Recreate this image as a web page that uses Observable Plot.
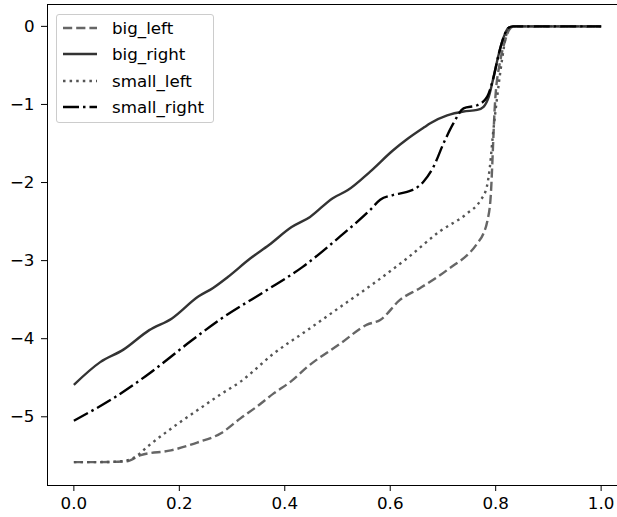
<!DOCTYPE html>
<html>
<head>
<meta charset="utf-8">
<script src="https://cdn.jsdelivr.net/npm/d3@7"></script>
<script src="https://cdn.jsdelivr.net/npm/@observablehq/plot@0.6"></script>
<style>
  html, body { margin: 0; padding: 0; overflow: hidden; background: white; }
  #wrap { position: relative; width: 641px; height: 517px; }
  #legend { position: absolute; left: 56px; top: 14px; width: 158px; height: 109px;
    border: 1px solid #cccccc; border-radius: 3px; background: rgba(255,255,255,0.8);
    font-family: "DejaVu Sans", sans-serif; font-size: 16.7px; color: #000; box-sizing: border-box; }
  .row { position: absolute; left: 0; height: 20px; display: flex; align-items: center; white-space: nowrap; }
  .row svg { margin-left: 6px; display: block; }
  .row span { margin-left: 15px; }
</style>
</head>
<body>
<div id="wrap"></div>
<script>
// ---- data ----
const seriesNames = ["big_left", "big_right", "small_left", "small_right"];

const bigLeftX = [0, 0.05, 0.1, 0.127, 0.184, 0.234, 0.279, 0.316, 0.347, 0.379, 0.413, 0.443, 0.506, 0.556, 0.581, 0.619, 0.657, 0.708, 0.765, 0.777, 0.784, 0.79, 0.799, 0.809, 0.818, 0.826, 0.835, 1.0];
const bigLeftY = [-5.58, -5.58, -5.57, -5.49, -5.43, -5.33, -5.21, -5.02, -4.87, -4.70, -4.54, -4.36, -4.06, -3.82, -3.76, -3.50, -3.35, -3.12, -2.78, -2.65, -2.50, -2.23, -0.95, -0.43, -0.18, -0.04, 0, 0];

const bigRightX = [0, 0.05, 0.094, 0.143, 0.186, 0.236, 0.264, 0.292, 0.335, 0.37, 0.413, 0.448, 0.491, 0.519, 0.562, 0.605, 0.633, 0.665, 0.676, 0.708, 0.739, 0.765, 0.777, 0.787, 0.796, 0.806, 0.815, 0.824, 0.833, 0.85, 1.0];
const bigRightY = [-4.59, -4.30, -4.14, -3.89, -3.74, -3.46, -3.35, -3.21, -2.97, -2.80, -2.57, -2.44, -2.20, -2.10, -1.86, -1.59, -1.44, -1.29, -1.24, -1.14, -1.09, -1.07, -1.03, -0.90, -0.65, -0.35, -0.14, -0.02, 0, 0, 0];

const smallLeftX = [0, 0.05, 0.09, 0.115, 0.14, 0.197, 0.24, 0.279, 0.316, 0.379, 0.443, 0.506, 0.569, 0.632, 0.695, 0.745, 0.771, 0.783, 0.789, 0.795, 0.802, 0.812, 0.821, 0.831, 1.0];
const smallLeftY = [-5.58, -5.58, -5.57, -5.52, -5.38, -5.09, -4.89, -4.71, -4.55, -4.19, -3.89, -3.59, -3.29, -2.97, -2.62, -2.40, -2.23, -2.06, -1.80, -1.37, -0.95, -0.43, -0.09, 0, 0];

const smallRightX = [0, 0.08, 0.136, 0.222, 0.278, 0.363, 0.434, 0.505, 0.562, 0.581, 0.605, 0.632, 0.647, 0.663, 0.682, 0.701, 0.72, 0.739, 0.765, 0.784, 0.796, 0.806, 0.815, 0.824, 0.833, 1.0];
const smallRightY = [-5.05, -4.74, -4.48, -4.03, -3.75, -3.39, -3.08, -2.69, -2.35, -2.22, -2.16, -2.12, -2.08, -1.99, -1.80, -1.50, -1.24, -1.05, -1.01, -0.90, -0.65, -0.35, -0.14, -0.02, 0, 0];

const xTicks = [0, 0.2, 0.4, 0.6, 0.8, 1.0];
const yTicks = [-5, -4, -3, -2, -1, 0];

// ---- styles ----
const styles = {
  big_left:    {stroke: "#666666", dash: "9.2,4"},
  big_right:   {stroke: "#333333", dash: null},
  small_left:  {stroke: "#555555", dash: "2.5,4.1"},
  small_right: {stroke: "#000000", dash: "16,4,2.5,4"}
};

const zip = (xs, ys) => xs.map((x, i) => ({x, y: ys[i]}));
const tables = {
  big_left: zip(bigLeftX, bigLeftY),
  big_right: zip(bigRightX, bigRightY),
  small_left: zip(smallLeftX, smallLeftY),
  small_right: zip(smallRightX, smallRightY)
};

const lineMark = name => Plot.line(tables[name], {
  x: "x", y: "y", curve: "monotone-x",
  stroke: styles[name].stroke, strokeWidth: 2.4,
  strokeDasharray: styles[name].dash || undefined,
  strokeLinecap: "butt", strokeLinejoin: "round"
});

const plot = Plot.plot({
  width: 641,
  height: 517,
  marginLeft: 47,
  marginRight: 14,
  marginTop: 4,
  marginBottom: 32,
  style: {fontFamily: "'DejaVu Sans', sans-serif", fontSize: "16.7px", color: "black", background: "white", overflow: "visible"},
  x: {domain: [-0.05, 1.05], ticks: xTicks, tickFormat: d3.format(".1f"), tickSize: 6, tickPadding: 6, label: null},
  y: {domain: [-5.88, 0.28], ticks: yTicks, tickFormat: d3.format("d"), tickSize: 6, tickPadding: 7, label: null},
  marks: [
    lineMark("big_left"),
    lineMark("big_right"),
    lineMark("small_left"),
    lineMark("small_right"),
    Plot.frame({stroke: "black", strokeWidth: 1})
  ]
});

const wrap = document.getElementById("wrap");
wrap.appendChild(plot);

// ---- legend ----
const legend = document.createElement("div");
legend.id = "legend";
const rowTops = [3, 29, 56, 82];
seriesNames.forEach((name, i) => {
  const row = document.createElement("div");
  row.className = "row";
  row.style.top = rowTops[i] + "px";
  const s = styles[name];
  row.innerHTML = `<svg width="34" height="20"><line x1="0" x2="34" y1="10" y2="10" stroke="${s.stroke}" stroke-width="2.4" ${s.dash ? `stroke-dasharray="${s.dash}"` : ""}/></svg><span>${name}</span>`;
  legend.appendChild(row);
});
wrap.appendChild(legend);
</script>
</body>
</html>
